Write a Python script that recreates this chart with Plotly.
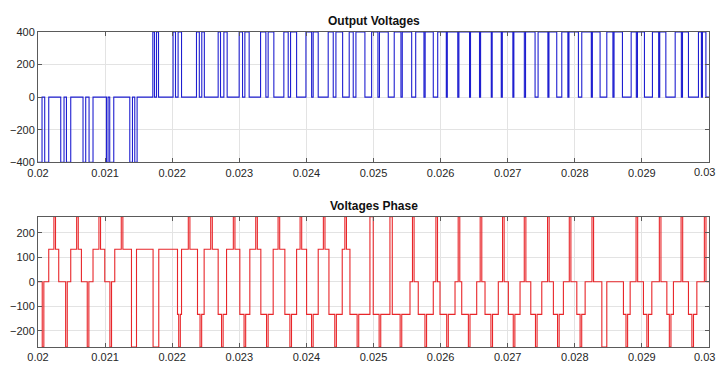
import plotly.graph_objects as go

# ---------------- data ----------------
# Output (line) voltage: switching instants (s) and the level held from each instant
output_t = [0.020000, 0.020060, 0.020100, 0.020160, 0.020339, 0.020388, 0.020424, 0.020488,
            0.020671, 0.020711, 0.020761, 0.020820, 0.021020, 0.021044, 0.021069, 0.021129,
            0.021368, 0.021408, 0.021442, 0.021477, 0.021711, 0.021736, 0.021766, 0.021796,
            0.022013, 0.022049, 0.022088, 0.022139, 0.022362, 0.022404, 0.022441, 0.022479,
            0.022685, 0.022720, 0.022770, 0.022819, 0.022998, 0.023048, 0.023083, 0.023147,
            0.023317, 0.023396, 0.023430, 0.023515, 0.023664, 0.023729, 0.023764, 0.023854,
            0.023993, 0.024078, 0.024101, 0.024176, 0.024325, 0.024400, 0.024440, 0.024540,
            0.024638, 0.024698, 0.024738, 0.024872, 0.024972, 0.025066, 0.025089, 0.025220,
            0.025309, 0.025409, 0.025429, 0.025569, 0.025629, 0.025752, 0.025770, 0.025891,
            0.025957, 0.026085, 0.026100, 0.026256, 0.026273, 0.026431, 0.026446, 0.026580,
            0.026596, 0.026755, 0.026769, 0.026904, 0.026920, 0.027077, 0.027092, 0.027248,
            0.027266, 0.027408, 0.027453, 0.027599, 0.027615, 0.027731, 0.027806, 0.027897,
            0.027913, 0.028054, 0.028104, 0.028246, 0.028262, 0.028377, 0.028477, 0.028568,
            0.028585, 0.028710, 0.028840, 0.028917, 0.028934, 0.029038, 0.029157, 0.029250,
            0.029266, 0.029357, 0.029496, 0.029588, 0.029605, 0.029694, 0.029843, 0.029887,
            0.029903, 0.029954, 0.030000]
output_v = [-400, 0, -400, 0, -400, 0, -400, 0,
            -400, 0, -400, 0, -400, 0, -400, 0,
            -400, 0, -400, 0, 400, 0, 400, 0,
            400, 0, 400, 0, 400, 0, 400, 0,
            400, 0, 400, 0, 400, 0, 400, 0,
            400, 0, 400, 0, 400, 0, 400, 0,
            400, 0, 400, 0, 400, 0, 400, 0,
            400, 0, 400, 0, 400, 0, 400, 0,
            400, 0, 400, 0, 400, 0, 400, 0,
            400, 0, 400, 0, 400, 0, 400, 0,
            400, 0, 400, 0, 400, 0, 400, 0,
            400, 0, 400, 0, 400, 0, 400, 0,
            400, 0, 400, 0, 400, 0, 400, 0,
            400, 0, 400, 0, 400, 0, 400, 0,
            400, 0, 400, 0, 400, 0, 400, 0,
            400, 0, 0]

# Phase voltage, one entry per carrier period
phase_hi_start = [0.020160, 0.020488, 0.020820, 0.021144, 0.021468, 0.021800, 0.022139, 0.022476,
                  0.022810, 0.023157, 0.023505, 0.023854, 0.024176, 0.024534, 0.024947, 0.025245,
                  0.025544, 0.025891, 0.026215, 0.026538, 0.026860, 0.027184, 0.027508, 0.027830,
                  0.028154, 0.028477, 0.028825, 0.029148, 0.029470, 0.029819]
phase_hi_end = [0.020309, 0.020647, 0.020995, 0.021393, 0.021715, 0.022079, 0.022377, 0.022685,
                0.023008, 0.023321, 0.023679, 0.024003, 0.024336, 0.024649, 0.024996, 0.025280,
                0.025667, 0.025991, 0.026315, 0.026662, 0.027010, 0.027344, 0.027681, 0.028030,
                0.028403, 0.028725, 0.029023, 0.029372, 0.029694, 0.030100]
phase_hi_level = [133.33, 133.33, 133.33, 133.33, 133.33, 133.33, 133.33, 133.33,
                  133.33, 133.33, 133.33, 133.33, 133.33, 133.33, 266.67, 266.67,
                  0, 0, 0, 0, 0, 0, 0, 0,
                  0, 0, 0, 0, 0, 0]
phase_lo_level = [0, 0, 0, 0, -266.67, -266.67, -133.33, -133.33,
                  -133.33, -133.33, -133.33, -133.33, -133.33, -133.33, -133.33, -133.33,
                  -133.33, -133.33, -133.33, -133.33, -133.33, -133.33, -133.33, -133.33,
                  -133.33, -266.67, -133.33, -133.33, -133.33, -133.33]
phase_up_center = [0.020249, 0.020588, 0.020920, 0.021253, None, None, 0.022252, 0.022586,
                   0.022923, 0.023257, 0.023590, 0.023918, 0.024265, 0.024585, None, None,
                   0.025593, 0.025942, 0.026274, 0.026602, 0.026935, 0.027259, 0.027606, 0.027930,
                   0.028268, None, 0.028925, 0.029272, 0.029596, 0.029943]
phase_down_center = [0.020075, 0.020424, 0.020746, 0.021084, None, None, 0.022109, 0.022427,
                     0.022747, 0.023083, 0.023418, 0.023766, 0.024089, 0.024435, 0.024768, 0.025096,
                     0.025409, 0.025779, 0.026103, 0.026426, 0.026762, 0.027095, 0.027426, 0.027755,
                     0.028091, None, 0.028775, 0.029086, 0.029421, 0.029757]
phase_peak = 266.67
spike_width = 0.000024

x_ticks = [0.02, 0.021, 0.022, 0.023, 0.024, 0.025, 0.026, 0.027, 0.028, 0.029, 0.03]
x_tick_text = ["0.02", "0.021", "0.022", "0.023", "0.024", "0.025", "0.026", "0.027", "0.028", "0.029", ""]
x_last_label = "0.03"
top_y_ticks = [-400, -200, 0, 200, 400]
bot_y_ticks = [-200, -100, 0, 100, 200]

# ---------------- build phase step data ----------------
pt, pv = [0.02], [phase_lo_level[0]]
n = len(phase_hi_start)
for k in range(n):
    dc = phase_down_center[k]
    if dc is not None:
        pt += [dc - spike_width / 2, dc + spike_width / 2]
        pv += [-phase_peak, phase_lo_level[k]]
    pt.append(phase_hi_start[k]); pv.append(phase_hi_level[k])
    uc = phase_up_center[k]
    if uc is not None:
        pt += [uc - spike_width / 2, uc + spike_width / 2]
        pv += [phase_peak, phase_hi_level[k]]
    nxt = phase_lo_level[k + 1] if k + 1 < n else phase_lo_level[k]
    pt.append(phase_hi_end[k]); pv.append(nxt)

fig = go.Figure()
fig.add_trace(go.Scatter(x=output_t, y=output_v, mode="lines", line_shape="hv",
                         line=dict(color="#1f1fd0", width=1.1), xaxis="x", yaxis="y",
                         showlegend=False, hoverinfo="skip"))
fig.add_trace(go.Scatter(x=pt, y=pv, mode="lines", line_shape="hv",
                         line=dict(color="#e8262a", width=1.1), xaxis="x2", yaxis="y2",
                         showlegend=False, hoverinfo="skip"))

font = dict(family="Liberation Sans, Arial, Helvetica, sans-serif", size=11, color="#262626")
axis_common = dict(showline=True, mirror="ticks", linecolor="#5a5a5a", linewidth=1,
                   ticks="inside", ticklen=4, tickcolor="#5a5a5a", showgrid=True,
                   gridcolor="#e3e3e3", gridwidth=1, zeroline=False, tickfont=font,
                   automargin=False)

top_dom = [0.5862, 1.0]
bot_dom = [0.0, 0.4138]
x_range = [0.02, 0.0300001]

title_font = dict(family="Liberation Sans, Arial, sans-serif", size=12, color="#111")
annotations = [
    dict(text="<b>Output Voltages</b>", x=0.5, y=top_dom[1], xref="paper", yref="paper",
         xanchor="center", yanchor="bottom", yshift=2, showarrow=False, font=title_font),
    dict(text="<b>Voltages Phase</b>", x=0.5, y=bot_dom[1], xref="paper", yref="paper",
         xanchor="center", yanchor="bottom", yshift=2, showarrow=False, font=title_font),
]
# last x tick label, nudged so it stays inside the page
for dom in (top_dom, bot_dom):
    annotations.append(dict(text=x_last_label, x=1, y=dom[0], xref="paper", yref="paper",
                            xanchor="right", yanchor="top", xshift=8, yshift=-2,
                            showarrow=False, font=font))

fig.update_layout(
    width=718, height=365,
    margin=dict(l=38, r=9, t=32, b=18),
    paper_bgcolor="white", plot_bgcolor="white",
    font=font,
    xaxis=dict(domain=[0, 1], anchor="y", range=x_range, tickvals=x_ticks,
               ticktext=x_tick_text, **axis_common),
    yaxis=dict(domain=top_dom, anchor="x", range=[-400, 400], tickvals=top_y_ticks,
               **axis_common),
    xaxis2=dict(domain=[0, 1], anchor="y2", range=x_range, tickvals=x_ticks,
                ticktext=x_tick_text, **axis_common),
    yaxis2=dict(domain=bot_dom, anchor="x2", range=[-phase_peak, phase_peak],
                tickvals=bot_y_ticks, **axis_common),
    annotations=annotations,
)

fig.write_html("out.html")
